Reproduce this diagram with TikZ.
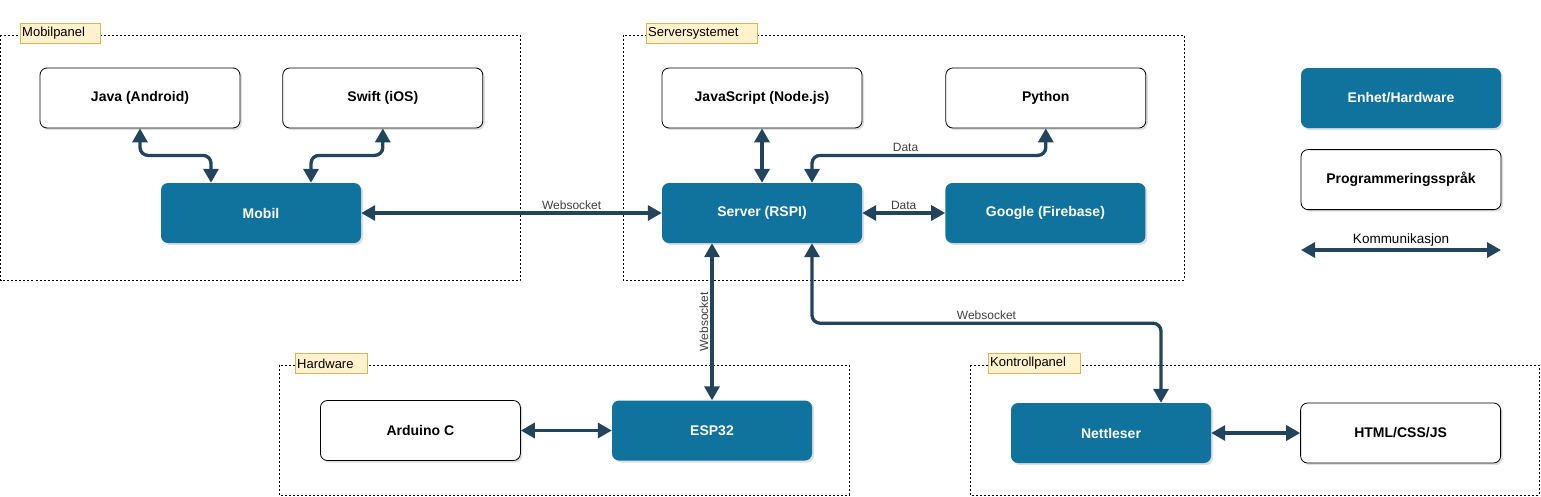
\documentclass[tikz,border=0pt]{standalone}
\usepackage{fontspec}
\setmainfont{Liberation Sans}
\usepackage{tikz}
\usetikzlibrary{positioning}
\usetikzlibrary{shadows}
\usetikzlibrary{arrows.meta}

\definecolor{hwblue}{HTML}{10739E}
\definecolor{linkblue}{HTML}{23445D}
\definecolor{tagfill}{HTML}{FFF2CC}
\definecolor{tagline}{HTML}{D6B656}
\definecolor{lblgray}{HTML}{404040}

\begin{document}
\begin{tikzpicture}[x=1pt,y=-1pt,
    box/.style={rectangle, rounded corners=7pt, minimum width=200pt, minimum height=60pt, inner sep=0pt,
        font=\fontsize{14}{16}\selectfont\bfseries,
        drop shadow={shadow xshift=2pt, shadow yshift=-2pt, opacity=0.25}},
    hw/.style={box, fill=hwblue, text=white},
    lang/.style={box, draw=black, line width=0.8pt, fill=white},
    group/.style={draw=black, line width=0.6pt, dash pattern=on 2pt off 2pt},
    tag/.style={draw=tagline, fill=tagfill, text width=#1, align=left, inner xsep=2pt, inner ysep=0pt,
        minimum height=20pt, anchor=west, font=\fontsize{13}{15}\selectfont},
    link/.style={draw=linkblue, line width=3.3pt, rounded corners=8pt,
        {Triangle[length=14pt,width=15pt]}-{Triangle[length=14pt,width=15pt]}},
    lbl/.style={font=\fontsize{12}{14}\selectfont, text=lblgray, inner sep=2pt}
  ]
        \useasboundingbox (0,0) rectangle (1541,496);

        % Groups
        \draw[group] (0.5,35) rectangle (520,280);
        \draw[group] (623,35) rectangle (1184,280);
        \draw[group] (279,365) rectangle (849,495);
        \draw[group] (970,365) rectangle (1539,495);
        \node[tag=76pt]  (tmobil)  at (20,33.5)   {Mobilpanel};
        \node[tag=107pt] (tserver) at (646,33.5)  {Serversystemet};
        \node[tag=68pt]  (thw)     at (295,363.5) {Hardware};
        \node[tag=88pt]  (tkontr)  at (988,363.5) {Kontrollpanel};

        % Nodes
        \node[lang]                      (java)    at (140,98)    {Java (Android)};
        \node[lang, right=42pt of java]  (swift)                  {Swift (iOS)};
        \node[hw]                        (mobil)   at (261,213)   {Mobil};
        \node[lang]                      (js)      at (762,98)    {JavaScript (Node.js)};
        \node[lang, right=83pt of js]    (python)                 {Python};
        \node[hw]                        (server)  at (762,213)   {Server (RSPI)};
        \node[hw, right=83pt of server]  (google)                 {Google (Firebase)};
        \node[hw]                        (esp)     at (712,430.5) {ESP32};
        \node[lang, left=91pt of esp]    (arduino)                {Arduino C};
        \node[hw]                        (nett)    at (1111,433)  {Nettleser};
        \node[lang, right=89pt of nett]  (html)                   {HTML/CSS/JS};

        % Legend
        \node[hw]                        (enhet)   at (1401,98)   {Enhet/Hardware};
        \node[lang, below=21pt of enhet] (sprak)                  {Programmeringsspråk};
        \coordinate (komA) at (1301,250);
        \coordinate (komB) at (1501,250);

        % Edges
        \draw[link] (java.south) -- ++(0,27) -| ([xshift=-50pt]mobil.north);
        \draw[link] (swift.south) -- ++(0,27) -| ([xshift=50pt]mobil.north);
        \draw[link] (mobil) -- node[lbl, pos=0.7, above] {Websocket} (server);
        \draw[link] (js) -- (server);
        \draw[link] (python.south) -- ++(0,27) -| node[lbl, pos=0.3, above] {Data} ([xshift=50pt]server.north);
        \draw[link] (server) -- node[lbl, above] {Data} (google);
        \draw[link] ([xshift=-50pt]server.south) -- node[lbl, rotate=90, above] {Websocket} (esp);
        \draw[link] ([xshift=50pt]server.south) -- ++(0,80) -| node[lbl, pos=0.25, above] {Websocket} ([xshift=50pt]nett.north);
        \draw[link] (arduino) -- (esp);
        \draw[link] (nett) -- (html);
        \draw[link] (komA) -- node[lbl, above, text=black, font=\fontsize{13.5}{16}\selectfont] {Kommunikasjon} (komB);
\end{tikzpicture}
\end{document}
